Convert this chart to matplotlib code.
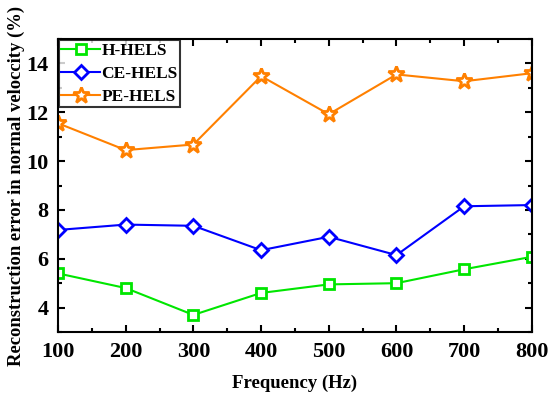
import matplotlib.pyplot as plt
from matplotlib.ticker import MultipleLocator

freq = [100, 200, 300, 400, 500, 600, 700, 800]
h_hels = [5.4, 4.8, 3.7, 4.6, 4.95, 5.0, 5.57, 6.08]
ce_hels = [7.18, 7.4, 7.35, 6.35, 6.9, 6.15, 8.15, 8.2]
pe_hels = [11.55, 10.45, 10.68, 13.48, 11.92, 13.55, 13.27, 13.6]

plt.rcParams['font.family'] = 'Liberation Serif'
plt.rcParams['font.weight'] = 'bold'

fig = plt.figure(figsize=(5.5, 3.97), dpi=100)
ax = fig.add_axes([0.1055, 0.1637, 0.8615, 0.738])

ax.plot(freq, h_hels, color='#00e600', lw=1.5, marker='s', ms=7, mfc='white', mec='#00e600', mew=2, label='H-HELS')
ax.plot(freq, ce_hels, color='#0000ff', lw=1.5, marker='D', ms=7.5, mfc='white', mec='#0000ff', mew=2, label='CE-HELS')
ax.plot(freq, pe_hels, color='#ff8000', lw=1.5, marker='*', ms=12, mfc='white', mec='#ff8000', mew=2, label='PE-HELS')

ax.set_xlim(100, 800)
ax.set_ylim(3, 15)
ax.set_xticks(freq)
ax.set_yticks([4, 6, 8, 10, 12, 14])
ax.xaxis.set_minor_locator(MultipleLocator(50))
ax.yaxis.set_minor_locator(MultipleLocator(1))
ax.tick_params(which='both', direction='in', top=True, right=True, width=1.5, labelsize=16)
ax.tick_params(which='major', length=5, pad=7)
ax.tick_params(which='minor', length=3)
for s in ax.spines.values():
    s.set_linewidth(1.5)

ax.set_xlabel('Frequency (Hz)', fontsize=13.5, fontweight='bold', labelpad=9)
ax.set_ylabel('Reconstruction error in normal veloccity (%)', fontsize=13.4, fontweight='bold')
ax.yaxis.set_label_coords(-0.07, 0.5)

leg = ax.legend(loc='upper left', fontsize=12.5, frameon=True, fancybox=False, borderpad=0.15,
                labelspacing=0.4, handlelength=2.2, handletextpad=0.1, borderaxespad=0.05)
leg.get_frame().set_edgecolor('black')
leg.get_frame().set_linewidth(1.5)

fig.savefig('out.png', dpi=100)
